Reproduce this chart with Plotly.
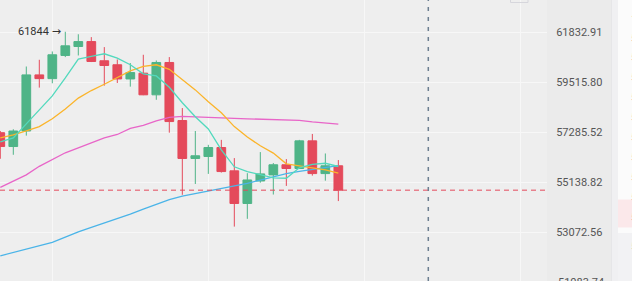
import math
import plotly.graph_objects as go

W, H = 632, 281

idx = list(range(27))
open_ = [57255, 56654, 57330, 59840, 59669, 60735, 61152, 61383, 60489, 60304, 59655, 59919, 58936, 60410,
         57790, 56139, 56225, 56611, 55611, 54242, 55182, 55439, 55869, 55710, 56899, 55495, 55826]
high = [57330, 57406, 60225, 60535, 60920, 61844, 61726, 61592, 61124, 60549, 60382, 60767, 60503, 60660,
        58343, 57330, 56727, 56942, 56156, 55512, 56414, 55942, 56113, 56942, 57200, 56354, 56071]
low = [56126, 56298, 57127, 59262, 59458, 60660, 60735, 60430, 59351, 59471, 59306, 58920, 58713, 57256,
       54602, 55056, 55482, 55538, 53292, 53610, 55110, 54614, 54974, 55700, 55409, 55195, 54341]
close = [56654, 57330, 59840, 59669, 60767, 61184, 61383, 60457, 60271, 59655, 59947, 58936, 60410, 57745,
         56139, 56255, 56611, 55581, 54242, 55225, 55482, 55869, 55710, 56899, 55495, 55826, 54796]

ma5 = [56856, 57028, 57642, 58267, 58891, 59701, 60568, 60688, 60813, 60614, 60304, 59887, 59794, 59279,
       58579, 57955, 57419, 56513, 55783, 55581, 55439, 55311, 55298, 55740, 55890, 55933, 55796]
ma10 = [57028, 57157, 57330, 57522, 57865, 58298, 58789, 59128, 59413, 59734, 60026, 60234, 60304, 60095,
        59609, 59159, 58624, 58133, 57522, 57071, 56684, 56371, 55912, 55826, 55740, 55654, 55512]
ma30 = [54912, 55160, 55439, 55804, 56105, 56384, 56599, 56813, 57028, 57178, 57442, 57575, 57776, 57932,
        57977, 57955, 57941, 57910, 57888, 57865, 57843, 57821, 57812, 57799, 57732, 57687, 57629]
ma60 = [52118, 52245, 52373, 52508, 52655, 52866, 53081, 53263, 53440, 53622, 53804, 54011, 54209, 54399,
        54544, 54647, 54750, 54858, 54969, 55085, 55220, 55358, 55495, 55590, 55663, 55740, 55830]

tick_vals = [61832.91, 59515.80, 57285.52, 55138.82, 53072.56, 51083.74]
tick_text = ["61832.91", "59515.80", "57285.52", "55138.82", "53072.56", "51083.74"]
x_grid = [4, 16, 28, 40]
high_label = "61844"
high_idx = 5
marker_idx = 32.92
last_price = close[-1]

GREEN = "#4fb487"
RED = "#e44a5b"
BG = "#eeeeee"
AXBG = "#ebebeb"

fig = go.Figure()
fig.add_trace(go.Candlestick(
    x=idx, open=open_, high=high, low=low, close=close,
    increasing=dict(line=dict(color=GREEN, width=1), fillcolor=GREEN),
    decreasing=dict(line=dict(color=RED, width=1), fillcolor=RED),
    whiskerwidth=0, showlegend=False, hoverinfo="skip"))

for vals, col in [(ma60, "#4ab4e8"), (ma30, "#e865c8"), (ma10, "#fbb42a"), (ma5, "#52d9bd")]:
    fig.add_trace(go.Scatter(x=idx, y=vals, mode="lines", line=dict(color=col, width=1.3),
                             showlegend=False, hoverinfo="skip"))

xd = 547 / W
shapes = [
    dict(type="rect", xref="paper", yref="paper", x0=xd, x1=612 / W, y0=0, y1=1,
         fillcolor=AXBG, line=dict(width=0), layer="below"),
    dict(type="rect", xref="paper", yref="paper", x0=612 / W, x1=618 / W, y0=0, y1=1,
         fillcolor="#f0f0f2", line=dict(width=0), layer="below"),
    dict(type="rect", xref="paper", yref="paper", x0=618 / W, x1=1, y0=1 - 233 / H, y1=1,
         fillcolor="#fbfbfb", line=dict(width=0), layer="below"),
    dict(type="rect", xref="paper", yref="paper", x0=618 / W, x1=1, y0=1 - 233 / H, y1=0,
         fillcolor="#f2f2f4", line=dict(width=0), layer="below"),
    dict(type="rect", xref="paper", yref="paper", x0=618 / W, x1=1, y0=1 - 227.5 / H, y1=1 - 199.5 / H,
         fillcolor="#fbe8ea", line=dict(width=0), layer="below"),
    dict(type="line", xref="paper", yref="paper", x0=611.5 / W, x1=611.5 / W, y0=0, y1=1,
         line=dict(color="#e6e6e8", width=1)),
    dict(type="rect", xref="paper", yref="paper", x0=510.5 / W, x1=528 / W, y0=1 - 2.5 / H, y1=1.02,
         line=dict(color="#d6d6dc", width=1), fillcolor="rgba(0,0,0,0)"),
    dict(type="line", xref="paper", yref="y", x0=0, x1=xd, y0=last_price, y1=last_price,
         line=dict(color=RED, width=1, dash="5px,4px")),
    dict(type="line", xref="x", yref="paper", x0=marker_idx, x1=marker_idx, y0=0, y1=1,
         line=dict(color="#6c7e90", width=1.5, dash="4px,6px")),
]

annotations = [
    dict(x=high_idx, y=math.log10(high[high_idx]), xref="x", yref="y",
         text=high_label + " <span style='font-family:DejaVu Sans;font-size:11px'>→</span>",
         showarrow=False, xanchor="right", yanchor="middle", xshift=-2,
         font=dict(family="Roboto", size=11, color="#333333")),
    dict(x=556 / W, y=1 - 282 / H, xref="paper", yref="paper", text=tick_text[-1], showarrow=False,
         xanchor="left", yanchor="middle", font=dict(family="Roboto", size=11, color="#555555")),
    dict(x=628.5 / W, y=1 - 20 / H, xref="paper", yref="paper", text="1", showarrow=False,
         xanchor="left", yanchor="middle", font=dict(family="Roboto", size=11, color="#e8b89a")),
    dict(x=628.5 / W, y=1 - 247 / H, xref="paper", yref="paper", text="5", showarrow=False,
         xanchor="left", yanchor="middle", font=dict(family="Roboto", size=11, color=GREEN)),
]
for k in range(10):
    annotations.append(dict(x=628.5 / W, y=1 - (38 + 19.9 * k) / H, xref="paper", yref="paper",
                            text="5", showarrow=False, xanchor="left", yanchor="middle",
                            font=dict(family="Roboto", size=11, color=RED)))

fig.update_layout(
    width=W, height=H, margin=dict(l=0, r=0, t=0, b=0),
    paper_bgcolor=AXBG, plot_bgcolor=BG,
    boxgap=0.33, boxgroupgap=0,
    shapes=shapes, annotations=annotations,
    xaxis=dict(domain=[0, xd], range=[-0.023, 42.05], rangeslider=dict(visible=False),
               tickvals=x_grid, showticklabels=False, showgrid=True, gridcolor="#f7f7f7",
               gridwidth=1, zeroline=False, showline=False, ticks=""),
    yaxis=dict(type="log", side="right", range=[4.708616, 4.801838],
               tickvals=tick_vals[:-1], ticktext=tick_text[:-1], showgrid=True, gridcolor="#f7f7f7",
               gridwidth=1, zeroline=False, showline=False, ticks="outside", ticklen=6,
               tickcolor="rgba(0,0,0,0)", tickfont=dict(family="Roboto", size=11, color="#555555")),
    hovermode=False,
)

fig.write_html("out.html")
